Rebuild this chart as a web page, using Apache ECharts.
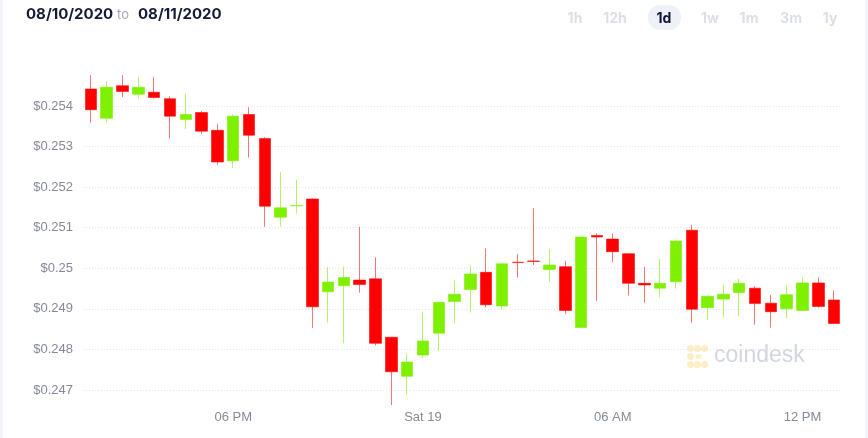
<!DOCTYPE html>
<html>
<head>
<meta charset="utf-8">
<script src="https://cdn.jsdelivr.net/npm/echarts@6/dist/echarts.min.js"></script>
<style>
html,body{margin:0;padding:0;background:#fff;}
#c{width:868px;height:438px;}
</style>
</head>
<body>
<div id="c"></div>
<script>
// 30-minute candles, 13:30 -> 13:00 next day
const categories = ['13:30','14:00','14:30','15:00','15:30','16:00','16:30','17:00','17:30','18:00',
  '18:30','19:00','19:30','20:00','20:30','21:00','21:30','22:00','22:30','23:00','23:30',
  '00:00','00:30','01:00','01:30','02:00','02:30','03:00','03:30','04:00','04:30','05:00','05:30',
  '06:00','06:30','07:00','07:30','08:00','08:30','09:00','09:30','10:00','10:30','11:00','11:30',
  '12:00','12:30','13:00'];
const opens  = [0.25442,0.25370,0.25450,0.25429,0.25434,0.25418,0.25367,0.25384,0.25340,0.25265,
  0.25379,0.25320,0.25126,0.25154,0.25171,0.24942,0.24957,0.24971,0.24974,0.24830,
  0.24734,0.24786,0.24840,0.24918,0.24948,0.24990,0.24907,0.25015,0.25018,0.24997,
  0.25004,0.24854,0.25081,0.25072,0.25036,0.24963,0.24951,0.24967,0.25094,0.24903,
  0.24924,0.24940,0.24951,0.24914,0.24900,0.24896,0.24964,0.24922];
const closes = [0.25391,0.25446,0.25436,0.25446,0.25421,0.25375,0.25379,0.25338,0.25262,0.25375,
  0.25328,0.25153,0.25149,0.25155,0.24905,0.24966,0.24977,0.24960,0.24815,0.24745,
  0.24769,0.24821,0.24916,0.24936,0.24986,0.24910,0.25011,0.25014,0.25017,0.25008,
  0.24896,0.25077,0.25077,0.25041,0.24963,0.24959,0.24963,0.25067,0.24899,0.24931,
  0.24936,0.24963,0.24913,0.24893,0.24935,0.24964,0.24906,0.24864];
const lows   = [0.25359,0.25359,0.25422,0.25418,0.25418,0.25320,0.25343,0.25331,0.25255,0.25247,
  0.25273,0.25102,0.25103,0.25135,0.24853,0.24866,0.24815,0.24940,0.24810,0.24663,
  0.24688,0.24778,0.24797,0.24864,0.24891,0.24904,0.24899,0.24977,0.25008,0.24967,
  0.24887,0.24854,0.24920,0.25015,0.24933,0.24915,0.24928,0.24950,0.24866,0.24873,
  0.24879,0.24883,0.24861,0.24854,0.24877,0.24895,0.24903,0.24862];
const highs  = [0.25476,0.25462,0.25476,0.25472,0.25471,0.25424,0.25431,0.25388,0.25356,0.25380,
  0.25397,0.25323,0.25237,0.25218,0.25172,0.25003,0.25004,0.25102,0.25027,0.24831,
  0.24790,0.24893,0.24918,0.24971,0.25007,0.25049,0.25012,0.25035,0.25148,0.25048,
  0.25018,0.25078,0.25086,0.25086,0.25037,0.25003,0.25023,0.25071,0.25107,0.24934,
  0.24959,0.24974,0.24956,0.24934,0.24958,0.24978,0.24977,0.24946];
const xTickLabels = {'18:00':'06 PM','00:00':'Sat 19','06:00':'06 AM','12:00':'12 PM'};
const yMin = 0.246, yMax = 0.255, yStep = 0.001;

const candleData = categories.map((c,i)=>[opens[i],closes[i],lows[i],highs[i]]);
const grid = '#e2e4ed';
const lineColors = ['rgba(0,0,0,0)',grid,grid,grid,grid,grid,grid,grid,grid,'rgba(0,0,0,0)'];

const chart = echarts.init(document.getElementById('c'), null, {renderer:'canvas'});
const font = '"Liberation Sans", Arial, sans-serif';
const hdr = 'bold 15px Inter, "Liberation Sans", sans-serif';
const btn = 'bold 14px Inter, "Liberation Sans", sans-serif';
chart.setOption({
  animation:false,
  backgroundColor:'#ffffff',
  grid:{left:83,right:26,top:65.43,bottom:7.43},
  xAxis:{
    type:'category',data:categories,boundaryGap:true,offset:-22,
    axisLine:{show:false},axisTick:{show:false},splitLine:{show:false},
    axisLabel:{
      margin:2,color:'#868a98',fontSize:13,fontFamily:font,
      interval:(i,v)=>xTickLabels[v]!==undefined,
      formatter:v=>xTickLabels[v]||''
    }
  },
  yAxis:{
    type:'value',min:yMin,max:yMax,interval:yStep,scale:true,
    axisLine:{show:false},axisTick:{show:false},
    axisLabel:{
      margin:10,color:'#868a98',fontSize:13,fontFamily:font,
      formatter:v=>{
        if (Math.abs(v-yMin)<1e-7 || Math.abs(v-yMax)<1e-7) return '';
        let s = v.toFixed(3);
        if (s.endsWith('0')) s = s.replace(/0+$/,'');
        return '$'+s;
      }
    },
    splitLine:{show:true,lineStyle:{color:lineColors,width:1,type:[1,2]}}
  },
  series:[{
    type:'candlestick',
    data:candleData,
    barWidth:12,
    itemStyle:{
      color:'#7ff000',color0:'#ff0000',
      borderColor:'rgba(127,240,0,0.6)',borderColor0:'rgba(255,0,0,0.55)',
      borderWidth:1
    }
  }],
  graphic:[
    {type:'rect',left:0,top:0,shape:{width:3,height:438},style:{fill:'#f3f5fa'},silent:true},
    {type:'rect',left:865,top:0,shape:{width:3,height:438},style:{fill:'#f3f5fa'},silent:true},
    {type:'text',x:26,y:14.5,style:{text:'08/10/2020',font:hdr,fill:'#161a36',verticalAlign:'middle'}},
    {type:'text',x:117,y:15.5,style:{text:'to',font:'13px Inter, "Liberation Sans", sans-serif',fill:'#a4a8ba',verticalAlign:'middle'}},
    {type:'text',x:138,y:14.5,style:{text:'08/11/2020',font:hdr,fill:'#161a36',verticalAlign:'middle'}},
    {type:'rect',left:648,top:5,shape:{width:33,height:25,r:12},style:{fill:'#eef1f8'}},
    {type:'text',x:575,y:19,style:{text:'1h',font:btn,fill:'#dcdfe9',align:'center',verticalAlign:'middle'}},
    {type:'text',x:615,y:19,style:{text:'12h',font:btn,fill:'#dcdfe9',align:'center',verticalAlign:'middle'}},
    {type:'text',x:664,y:19,style:{text:'1d',font:btn,fill:'#0f1433',align:'center',verticalAlign:'middle'}},
    {type:'text',x:710,y:19,style:{text:'1w',font:btn,fill:'#dcdfe9',align:'center',verticalAlign:'middle'}},
    {type:'text',x:749,y:19,style:{text:'1m',font:btn,fill:'#dcdfe9',align:'center',verticalAlign:'middle'}},
    {type:'text',x:791,y:19,style:{text:'3m',font:btn,fill:'#dcdfe9',align:'center',verticalAlign:'middle'}},
    {type:'text',x:830,y:19,style:{text:'1y',font:btn,fill:'#dcdfe9',align:'center',verticalAlign:'middle'}},
    {type:'group',left:687,top:345,z:-1,children:[
      {type:'circle',shape:{cx:4,cy:4,r:3.5},style:{fill:'#fdeec4'}},
      {type:'circle',shape:{cx:11,cy:4,r:3.5},style:{fill:'#fdeec4'}},
      {type:'circle',shape:{cx:18,cy:4,r:3.5},style:{fill:'#fdeec4'}},
      {type:'circle',shape:{cx:4,cy:12,r:3.5},style:{fill:'#fdeec4'}},
      {type:'circle',shape:{cx:4,cy:20,r:3.5},style:{fill:'#fdeec4'}},
      {type:'circle',shape:{cx:11,cy:20,r:3.5},style:{fill:'#fdeec4'}},
      {type:'circle',shape:{cx:18,cy:20,r:3.5},style:{fill:'#fdeec4'}},
      {type:'rect',shape:{x:9,y:10,width:6,height:4},style:{fill:'#fdeec4'}}
    ]},
    {type:'text',left:714,top:344,z:-1,style:{text:'coindesk',font:'23px "Liberation Sans", Arial, sans-serif',fill:'#d3d6de'}}
  ]
});
</script>
</body>
</html>
